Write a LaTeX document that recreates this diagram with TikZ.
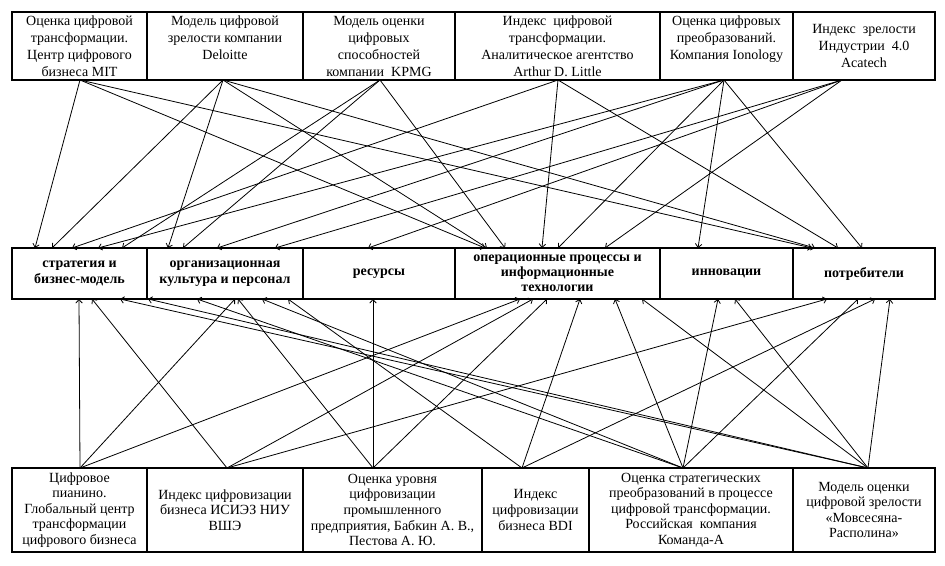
\documentclass[tikz,border=0pt]{standalone}
\usepackage{fontspec}
\setmainfont{Liberation Serif}
\usetikzlibrary{arrows.meta}
\begin{document}
\begin{tikzpicture}[x=1pt,y=-1pt,
  topbox/.style={draw=black,line width=1.3pt,inner sep=0pt,align=center,minimum height=68pt,font=\fontsize{14}{17}\selectfont},
  midbox/.style={draw=black,line width=1.3pt,inner sep=0pt,align=center,minimum height=51pt,font=\fontsize{14}{16}\selectfont\bfseries},
  botbox/.style={draw=black,line width=1.3pt,inner sep=0pt,align=center,minimum height=84pt,font=\fontsize{14}{15.6}\selectfont},
  arr/.style={-{Straight Barb[length=3.5pt,width=6.5pt]},line width=0.8pt,draw=black}]
\useasboundingbox[fill=white] (0,0) rectangle (945,565);

% ---- arrows first (behind boxes) ----
% top sources
\coordinate (sMIT) at (80,80);
\coordinate (sDel) at (223,80);
\coordinate (sKPMG) at (380,80);
\coordinate (sADL) at (558,80);
\coordinate (sIon) at (724,80);
\coordinate (sAca) at (842,80);
\foreach \x in {35,52,72,98,122,168,183,217,275,368,485,487,505,542,558,605,698,812,815,838,862}
  \coordinate (u\x) at (\x,248);
\foreach \s/\t in {MIT/35,MIT/485,MIT/812,
                   Del/52,Del/168,Del/487,Del/815,
                   KPMG/122,KPMG/183,KPMG/505,
                   ADL/72,ADL/542,ADL/838,
                   Ion/98,Ion/217,Ion/558,Ion/698,Ion/862,
                   Aca/275,Aca/368,Aca/605}
  \draw[arr] (s\s) -- (u\t);

% bottom sources
\coordinate (pPia) at (80,468);
\coordinate (pHSE) at (227,468);
\coordinate (pBab) at (373,468);
\coordinate (pBDI) at (522,468);
\coordinate (pKom) at (683,468);
\coordinate (pMov) at (868,468);
\foreach \x in {79,92,120,148,197,235,238,262,288,373,520,533,547,580,615,642,718,735,827,858,875,890}
  \coordinate (b\x) at (\x,299);
\foreach \s/\t in {Pia/79,Pia/235,Pia/520,
                   HSE/92,HSE/533,HSE/827,
                   Bab/373,Bab/238,Bab/547,
                   BDI/288,BDI/580,BDI/875,
                   Kom/197,Kom/262,Kom/615,Kom/718,Kom/858,
                   Mov/120,Mov/148,Mov/642,Mov/735,Mov/890}
  \draw[arr] (p\s) -- (b\t);

% ---- top row ----
\node[topbox,minimum width=135pt] (t1) at (79.5,46) {Оценка цифровой\\трансформации.\\Центр цифрового\\бизнеса MIT};
\node[topbox,minimum width=156pt] (t2) at (225,46) {Модель цифровой\\зрелости компании\\Deloitte\\\mbox{}};
\node[topbox,minimum width=152pt] (t3) at (379,46) {Модель оценки\\цифровых\\способностей\\компании~~KPMG};
\node[topbox,minimum width=205pt] (t4) at (557.5,46) {Индекс~~цифровой\\трансформации.\\Аналитическое агентство\\Arthur D. Little};
\node[topbox,minimum width=133pt] (t5) at (726.5,46) {Оценка цифровых\\преобразований.\\Компания Ionology\\\mbox{}};
\node[topbox,minimum width=142pt] (t6) at (864,46) {Индекс~~зрелости\\Индустрии~~4.0\\Acatech};

% ---- middle row ----
\node[midbox,minimum width=135pt] (m1) at (79.5,273.5) {стратегия и\\бизнес-модель};
\node[midbox,minimum width=156pt] (m2) at (225,273.5) {организационная\\культура и персонал};
\node[midbox,minimum width=152pt] (m3) at (379,273.5) {ресурсы};
\node[midbox,minimum width=205pt,font=\fontsize{14}{15}\selectfont\bfseries] (m4) at (557.5,273.5) {операционные процессы и\\информационные\\технологии};
\node[midbox,minimum width=133pt] (m5) at (726.5,273.5) {инновации};
\node[midbox,minimum width=142pt] (m6) at (864,273.5) {потребители};

% ---- bottom row ----
\node[botbox,minimum width=135pt] (c1) at (79.5,510) {Цифровое\\пианино.\\Глобальный центр\\трансформации\\цифрового бизнеса};
\node[botbox,minimum width=156pt] (c2) at (225,510) {Индекс цифровизации\\бизнеса ИСИЭЗ НИУ\\ВШЭ};
\node[botbox,minimum width=179pt] (c3) at (392.5,510) {Оценка уровня\\цифровизации\\промышленного\\предприятия, Бабкин А. В.,\\Пестова А. Ю.};
\node[botbox,minimum width=107pt] (c4) at (535.5,510) {Индекс\\цифровизации\\бизнеса BDI};
\node[botbox,minimum width=204pt] (c5) at (691,510) {Оценка стратегических\\преобразований в процессе\\цифровой трансформации.\\Российская~~компания\\Команда-А};
\node[botbox,minimum width=142pt] (c6) at (864,510) {Модель оценки\\цифровой зрелости\\«Мовсесяна-\\Располина»};
\end{tikzpicture}
\end{document}
